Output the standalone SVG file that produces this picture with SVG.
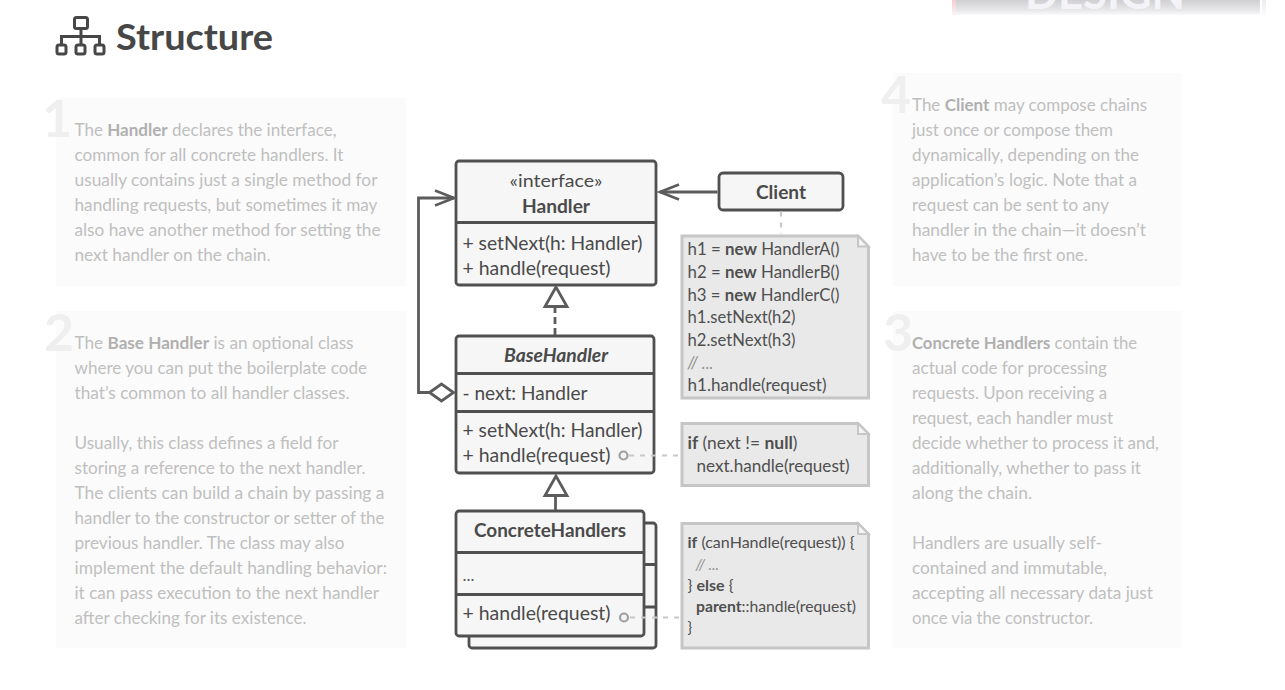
<svg xmlns="http://www.w3.org/2000/svg" width="1285" height="690" viewBox="0 0 1285 690">
<defs>
<linearGradient id="ban" x1="0" y1="0" x2="0" y2="1"><stop offset="0" stop-color="#cfcfd2"/><stop offset="0.7" stop-color="#e9e9ec"/><stop offset="1" stop-color="#fafafb"/></linearGradient>
<linearGradient id="ban2" x1="0" y1="0" x2="0" y2="1"><stop offset="0" stop-color="#ececee"/><stop offset="1" stop-color="#fcfcfc"/></linearGradient>
<linearGradient id="ban3" x1="0" y1="0" x2="0" y2="1"><stop offset="0" stop-color="#f3cfd2"/><stop offset="1" stop-color="#fdf3f4"/></linearGradient>
<marker id="open" markerUnits="userSpaceOnUse" markerWidth="24" markerHeight="20" refX="21" refY="10" orient="auto"><path d="M2 2.500L21 10L2 17.500" fill="none" stroke="#5c5c5c" stroke-width="2.600"/></marker>
</defs>
<style>
text{font-family:"Lato","Open Sans","Liberation Sans",sans-serif}
.d{font-size:17px;fill:#bfbfbf}
.d b,.b{font-weight:700}
.dk{font-weight:700;fill:#b0b0b0}
.num{font-size:52px;font-weight:700;fill:#efefef}
.panel{fill:#fbfbfb}
.box{fill:#f6f6f6;stroke:#505050;stroke-width:2.800}
.ln{stroke:#505050;stroke-width:2.800;fill:none}
.m{font-size:19px;fill:#4a4a4a}
.t{font-size:19px;fill:#4a4a4a;font-weight:700;text-anchor:middle}
.note{fill:#e9e9e9;stroke:#c6c6c6;stroke-width:3}
.fold{fill:#f5f5f5;stroke:#c6c6c6;stroke-width:2}
.c{font-size:16.500px;fill:#4f4f4f}
.s{font-size:15px}
.cm{fill:#8f8f8f;font-style:italic}
.hb{font-weight:700}
.dash{stroke:#c8c8c8;stroke-width:2.200;stroke-dasharray:5 6;fill:none}
.dot{fill:#f4f4f4;stroke:#a0a0a0;stroke-width:2.200}
.arr{stroke:#5c5c5c;stroke-width:2.800;fill:none}
</style>
<rect width="1285" height="690" fill="#ffffff"/>
<g id="banner">
<rect x="952" y="0" width="4" height="15" fill="url(#ban3)"/>
<rect x="956" y="0" width="304" height="15" fill="url(#ban)"/>
<rect x="1262" y="0" width="4" height="15" fill="url(#ban2)"/>
<text x="1105" y="9" font-size="44" font-weight="700" fill="#f4f4f8" text-anchor="middle" textLength="160" lengthAdjust="spacingAndGlyphs">DESIGN</text>
</g>
<g id="heading">
<g fill="none" stroke="#474747" stroke-width="3">
<rect x="74.500" y="17.500" width="13" height="11" rx="2"/>
<rect x="57" y="45" width="9" height="9" rx="2"/>
<rect x="76" y="45" width="9" height="9" rx="2"/>
<rect x="95" y="45" width="9" height="9" rx="2"/>
<path d="M81 28V45M61.500 45V36.500H99.500V45"/>
</g>
<text x="116" y="50" font-size="37" font-weight="700" fill="#474747" textLength="157" lengthAdjust="spacingAndGlyphs">Structure</text>
</g>
<g id="panel-1">
<rect class="panel" x="56" y="98" width="350" height="188"/>
<text class="num" x="42" y="137">1</text>
<text class="d" x="74.500" y="136" textLength="262" lengthAdjust="spacingAndGlyphs"><tspan>The </tspan><tspan class="dk">Handler</tspan><tspan> declares the interface,</tspan></text>
<text class="d" x="74.500" y="161" textLength="269" lengthAdjust="spacingAndGlyphs">common for all concrete handlers. It</text>
<text class="d" x="74.500" y="186" textLength="303" lengthAdjust="spacingAndGlyphs">usually contains just a single method for</text>
<text class="d" x="74.500" y="211" textLength="303" lengthAdjust="spacingAndGlyphs">handling requests, but sometimes it may</text>
<text class="d" x="74.500" y="236" textLength="306" lengthAdjust="spacingAndGlyphs">also have another method for setting the</text>
<text class="d" x="74.500" y="261" textLength="196" lengthAdjust="spacingAndGlyphs">next handler on the chain.</text>
</g>
<g id="panel-2">
<rect class="panel" x="56" y="311" width="350" height="337"/>
<text class="num" x="44" y="351">2</text>
<text class="d" x="74.500" y="349" textLength="279" lengthAdjust="spacingAndGlyphs"><tspan>The </tspan><tspan class="dk">Base Handler</tspan><tspan> is an optional class</tspan></text>
<text class="d" x="74.500" y="374" textLength="292.500" lengthAdjust="spacingAndGlyphs">where you can put the boilerplate code</text>
<text class="d" x="74.500" y="399" textLength="275" lengthAdjust="spacingAndGlyphs">that’s common to all handler classes.</text>
<text class="d" x="74.500" y="449" textLength="264" lengthAdjust="spacingAndGlyphs">Usually, this class defines a field for</text>
<text class="d" x="74.500" y="474" textLength="291" lengthAdjust="spacingAndGlyphs">storing a reference to the next handler.</text>
<text class="d" x="74.500" y="499" textLength="310" lengthAdjust="spacingAndGlyphs">The clients can build a chain by passing a</text>
<text class="d" x="74.500" y="524" textLength="310" lengthAdjust="spacingAndGlyphs">handler to the constructor or setter of the</text>
<text class="d" x="74.500" y="549" textLength="270" lengthAdjust="spacingAndGlyphs">previous handler. The class may also</text>
<text class="d" x="74.500" y="574" textLength="312.500" lengthAdjust="spacingAndGlyphs">implement the default handling behavior:</text>
<text class="d" x="74.500" y="599" textLength="304.500" lengthAdjust="spacingAndGlyphs">it can pass execution to the next handler</text>
<text class="d" x="74.500" y="624" textLength="232" lengthAdjust="spacingAndGlyphs">after checking for its existence.</text>
</g>
<g id="panel-4">
<rect class="panel" x="893" y="73" width="288" height="213"/>
<text class="num" x="881" y="113">4</text>
<text class="d" x="912" y="111" textLength="235" lengthAdjust="spacingAndGlyphs"><tspan>The </tspan><tspan class="dk">Client</tspan><tspan> may compose chains</tspan></text>
<text class="d" x="912" y="136" textLength="201" lengthAdjust="spacingAndGlyphs">just once or compose them</text>
<text class="d" x="912" y="161" textLength="227" lengthAdjust="spacingAndGlyphs">dynamically, depending on the</text>
<text class="d" x="912" y="186" textLength="225" lengthAdjust="spacingAndGlyphs">application’s logic. Note that a</text>
<text class="d" x="912" y="211" textLength="197" lengthAdjust="spacingAndGlyphs">request can be sent to any</text>
<text class="d" x="912" y="236" textLength="234" lengthAdjust="spacingAndGlyphs">handler in the chain—it doesn’t</text>
<text class="d" x="912" y="261" textLength="176" lengthAdjust="spacingAndGlyphs">have to be the first one.</text>
</g>
<g id="panel-3">
<rect class="panel" x="893" y="311" width="288" height="337"/>
<text class="num" x="883" y="351">3</text>
<text class="d" x="912" y="349" textLength="225" lengthAdjust="spacingAndGlyphs"><tspan class="dk">Concrete Handlers</tspan><tspan> contain the</tspan></text>
<text class="d" x="912" y="374" textLength="195" lengthAdjust="spacingAndGlyphs">actual code for processing</text>
<text class="d" x="912" y="399" textLength="195" lengthAdjust="spacingAndGlyphs">requests. Upon receiving a</text>
<text class="d" x="912" y="424" textLength="201" lengthAdjust="spacingAndGlyphs">request, each handler must</text>
<text class="d" x="912" y="449" textLength="247" lengthAdjust="spacingAndGlyphs">decide whether to process it and,</text>
<text class="d" x="912" y="474" textLength="229" lengthAdjust="spacingAndGlyphs">additionally, whether to pass it</text>
<text class="d" x="912" y="499" textLength="120" lengthAdjust="spacingAndGlyphs">along the chain.</text>
<text class="d" x="912" y="549" textLength="190" lengthAdjust="spacingAndGlyphs">Handlers are usually self-</text>
<text class="d" x="912" y="574" textLength="195" lengthAdjust="spacingAndGlyphs">contained and immutable,</text>
<text class="d" x="912" y="599" textLength="241" lengthAdjust="spacingAndGlyphs">accepting all necessary data just</text>
<text class="d" x="912" y="624" textLength="181" lengthAdjust="spacingAndGlyphs">once via the constructor.</text>
</g>
<g id="handler">
<rect class="box" x="456" y="161" width="200" height="124" rx="3"/>
<path class="ln" d="M456 222.500H656"/>
<text x="556" y="187" font-size="18" fill="#4a4a4a" text-anchor="middle" textLength="93" lengthAdjust="spacingAndGlyphs">«interface»</text>
<text class="t" x="556" y="213" textLength="68" lengthAdjust="spacingAndGlyphs">Handler</text>
<text class="m" x="462.500" y="250" textLength="180" lengthAdjust="spacingAndGlyphs">+ setNext(h: Handler)</text>
<text class="m" x="462.500" y="275" textLength="148" lengthAdjust="spacingAndGlyphs">+ handle(request)</text>
<path d="M556 287L545 306.500H567Z" fill="#fff" stroke="#5c5c5c" stroke-width="2.800"/>
</g>
<g id="base-handler">
<rect class="box" x="456" y="336" width="198" height="137" rx="3"/>
<path class="ln" d="M456 373.500H654M456 411.500H654"/>
<text class="t" x="556" y="362" font-style="italic" textLength="104" lengthAdjust="spacingAndGlyphs">BaseHandler</text>
<text class="m" x="462.500" y="400" textLength="125" lengthAdjust="spacingAndGlyphs">- next: Handler</text>
<text class="m" x="462.500" y="437" textLength="180" lengthAdjust="spacingAndGlyphs">+ setNext(h: Handler)</text>
<text class="m" x="462.500" y="462" textLength="148" lengthAdjust="spacingAndGlyphs">+ handle(request)</text>
<path d="M429.500 392.500L441.500 384L453.500 392.500L441.500 401Z" fill="#fff" stroke="#5c5c5c" stroke-width="2.800"/>
<path d="M556 476L545 495.500H567Z" fill="#fff" stroke="#5c5c5c" stroke-width="2.800"/>
</g>
<g id="concrete-handlers">
<rect class="box" x="469" y="523" width="187" height="125" rx="3"/>
<path class="ln" d="M644 564.500H656M644 607H656"/>
<rect class="box" x="456" y="511" width="188" height="125" rx="3"/>
<path class="ln" d="M456 552.500H644M456 594.500H644"/>
<text class="t" x="550" y="537" textLength="152" lengthAdjust="spacingAndGlyphs">ConcreteHandlers</text>
<text x="462.500" y="581" font-size="17" fill="#5a5a5a">...</text>
<text class="m" x="462.500" y="620" textLength="148" lengthAdjust="spacingAndGlyphs">+ handle(request)</text>
</g>
<g id="note-client">
<path class="note" d="M682 236H858L868.500 246.500V398H682Z"/>
<path class="fold" d="M858 236V246.500H868.500Z"/>
<text class="c" x="687.500" y="255" textLength="152" lengthAdjust="spacingAndGlyphs">h1 = <tspan class="hb">new</tspan> HandlerA()</text>
<text class="c" x="687.500" y="278" textLength="152" lengthAdjust="spacingAndGlyphs">h2 = <tspan class="hb">new</tspan> HandlerB()</text>
<text class="c" x="687.500" y="301" textLength="152" lengthAdjust="spacingAndGlyphs">h3 = <tspan class="hb">new</tspan> HandlerC()</text>
<text class="c" x="687.500" y="323" textLength="108" lengthAdjust="spacingAndGlyphs">h1.setNext(h2)</text>
<text class="c" x="687.500" y="346" textLength="108" lengthAdjust="spacingAndGlyphs">h2.setNext(h3)</text>
<text class="c cm" x="687.500" y="369">// ...</text>
<text class="c" x="687.500" y="391" textLength="139" lengthAdjust="spacingAndGlyphs">h1.handle(request)</text>
</g>
<g id="note-base">
<path class="note" d="M682 423.500H858L868.500 434V485.500H682Z"/>
<path class="fold" d="M858 423.500V434H868.500Z"/>
<text class="c" x="687.500" y="449" textLength="110" lengthAdjust="spacingAndGlyphs"><tspan class="hb">if</tspan> (next != <tspan class="hb">null</tspan>)</text>
<text class="c" x="696.500" y="472" textLength="153" lengthAdjust="spacingAndGlyphs">next.handle(request)</text>
</g>
<g id="note-concrete">
<path class="note" d="M682 523.500H858L868.500 534V648H682Z"/>
<path class="fold" d="M858 523.500V534H868.500Z"/>
<text class="c s" x="687.500" y="548" textLength="167" lengthAdjust="spacingAndGlyphs"><tspan class="hb">if</tspan> (canHandle(request)) {</text>
<text class="c s cm" x="695.500" y="570">// ...</text>
<text class="c s" x="687.500" y="591" textLength="46" lengthAdjust="spacingAndGlyphs">} <tspan class="hb">else</tspan> {</text>
<text class="c s" x="696" y="612" textLength="160" lengthAdjust="spacingAndGlyphs"><tspan class="hb">parent</tspan>::handle(request)</text>
<text class="c s" x="687.500" y="633">}</text>
</g>
<g id="client">
<rect class="box" x="719" y="173" width="124" height="37" rx="4"/>
<text class="t" x="781" y="199" textLength="50" lengthAdjust="spacingAndGlyphs">Client</text>
</g>
<g id="connectors">
<path class="arr" d="M717.500 192H660" marker-end="url(#open)"/>
<path class="arr" d="M430 392.500H418.500V198H454" marker-end="url(#open)"/>
<path class="arr" d="M555 335V307" stroke-dasharray="7 4"/>
<path class="arr" d="M555.500 510V496"/>
<path class="dash" d="M781 211.500V234"/>
<path class="dash" d="M629 455.500H680"/>
<path class="dash" d="M630 617.500H680"/>
<circle class="dot" cx="623.500" cy="455.500" r="4"/>
<circle class="dot" cx="624" cy="617.500" r="4"/>
</g>
</svg>
